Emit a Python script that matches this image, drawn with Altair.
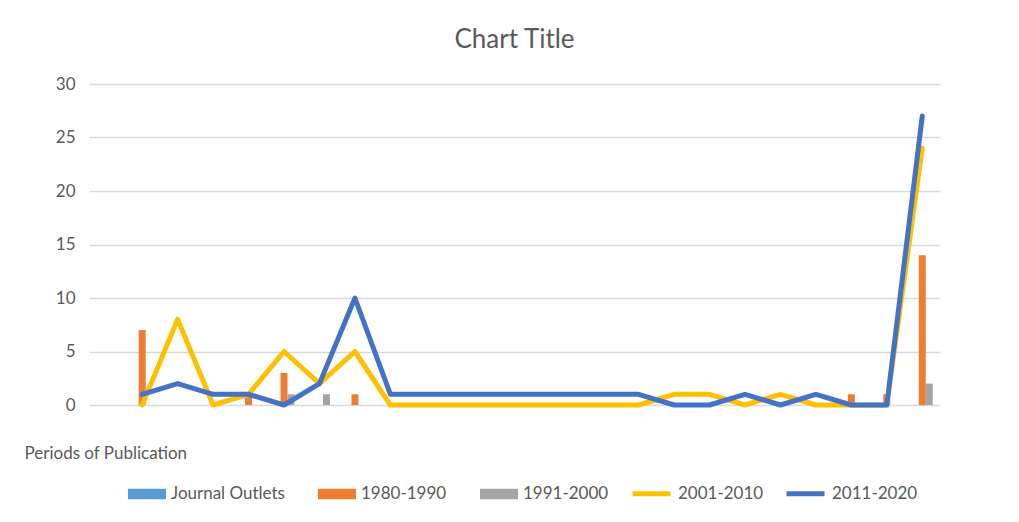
import altair as alt
import pandas as pd

categories = ["1", "2", "3", "4", "5", "6", "7", "8", "9", "10", "11", "12",
              "13", "14", "15", "16", "17", "18", "19", "20", "21", "22", "23", "24"]
journal_outlets = [None] * 24
p1980_1990 = [None, 7, 0, 0, 1, 3, 0, 1, 0, 0, 0, 0, 0, 0, 0, 0, 0, 0, 0, 0, 0, 1, 1, 14]
p1991_2000 = [None, 0, 0, 0, 0, 1, 1, 0, 0, 0, 0, 0, 0, 0, 0, 0, 0, 0, 0, 0, 0, 0, 0, 2]
p2001_2010 = [None, 0, 8, 0, 1, 5, 2, 5, 0, 0, 0, 0, 0, 0, 0, 0, 1, 1, 0, 1, 0, 0, 0, 24]
p2011_2020 = [None, 1, 2, 1, 1, 0, 2, 10, 1, 1, 1, 1, 1, 1, 1, 1, 0, 0, 1, 0, 1, 0, 0, 27]

bar_series = ["Journal Outlets", "1980-1990", "1991-2000"]
bar_colors = ["#5b9bd5", "#ed7d31", "#a5a5a5"]
line_series = ["2001-2010", "2011-2020"]
line_colors = ["#ffc000", "#4472c4"]
y_ticks = [0, 5, 10, 15, 20, 25, 30]

rows = []
for name, vals in zip(bar_series, [journal_outlets, p1980_1990, p1991_2000]):
    for c, v in zip(categories, vals):
        rows.append({"cat": c, "series": name, "value": v})
bar_df = pd.DataFrame(rows)

rows = []
for name, vals in zip(line_series, [p2001_2010, p2011_2020]):
    for c, v in zip(categories, vals):
        rows.append({"cat": c, "series": name, "value": v})
line_df = pd.DataFrame(rows)

FONT = "Lato"
TXT = "#595959"

x_scale = alt.Scale(domain=categories, type="band", paddingInner=0.408, paddingOuter=0.204)
y_enc = alt.Y("value:Q", scale=alt.Scale(domain=[0, 30]),
              axis=alt.Axis(values=y_ticks, title=None, grid=True, gridColor="#d9d9d9",
                            gridWidth=1.5, domain=False, ticks=False, labelPadding=14,
                            labelFontSize=17, labelColor=TXT, labelFont=FONT))

x_axis = alt.Axis(labels=False, ticks=False, domain=False, grid=False,
                  title="Periods of Publication", titleFont=FONT, titleFontSize=17,
                  titleFontWeight="normal", titleColor=TXT, titleAnchor="start",
                  titleAlign="left", titleBaseline="alphabetic", titleX=-65, titleY=53)

rect_path = "M-1,-0.27L1,-0.27L1,0.27L-1,0.27Z"

bars = alt.Chart(bar_df).transform_filter("datum.value > 0").mark_bar().encode(
    x=alt.X("cat:N", scale=x_scale, axis=x_axis, sort=categories),
    xOffset=alt.XOffset("series:N", scale=alt.Scale(domain=bar_series, paddingInner=0, paddingOuter=0)),
    y=y_enc,
    color=alt.Color("series:N", scale=alt.Scale(domain=bar_series, range=bar_colors),
                    legend=alt.Legend(title=None, orient="none", direction="horizontal",
                                      legendX=39, legendY=391, symbolType=rect_path,
                                      symbolSize=1444, symbolStrokeWidth=0, symbolOpacity=1,
                                      labelFont=FONT, labelFontSize=17, labelColor=TXT,
                                      labelOffset=5, columnPadding=33, padding=0)),
)

lines = alt.Chart(line_df).mark_line(strokeWidth=5, strokeJoin="round", strokeCap="round").encode(
    x=alt.X("cat:N", scale=x_scale, axis=x_axis, sort=categories),
    y=y_enc,
    stroke=alt.Stroke("series:N", scale=alt.Scale(domain=line_series, range=line_colors),
                      legend=alt.Legend(title=None, orient="none", direction="horizontal",
                                        legendX=541, legendY=388, symbolType="stroke",
                                        symbolSize=1444, symbolStrokeWidth=5,
                                        labelFont=FONT, labelFontSize=17, labelColor=TXT,
                                        labelOffset=5, columnPadding=12, padding=0)),
)

chart = alt.layer(bars, lines).properties(
    width=851, height=321,
    background="white",
    title=alt.TitleParams("Chart Title", font=FONT, fontSize=26, fontWeight="normal",
                          color=TXT, anchor="middle", offset=22),
    autosize=alt.AutoSizeParams(type="none"),
    padding={"left": 81, "top": 76, "right": 60, "bottom": 112},
).configure_view(stroke="transparent", strokeWidth=0)

chart.save("out.html", embed_options={"renderer": "svg", "actions": False})
